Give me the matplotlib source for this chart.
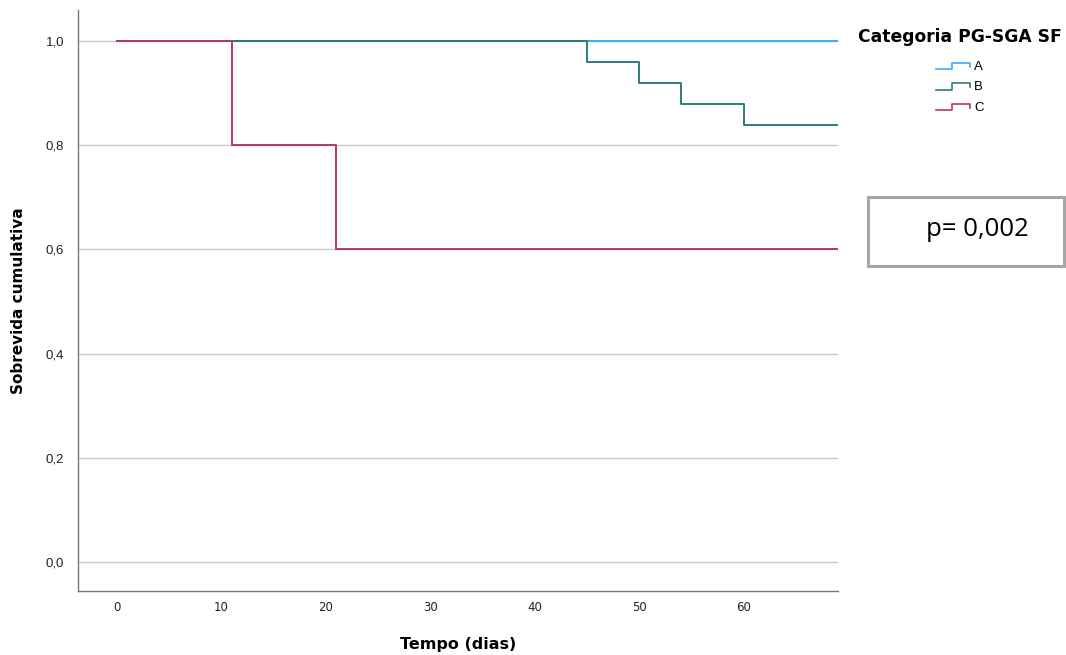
import matplotlib

matplotlib.use("Agg")
import matplotlib.pyplot as plt  # noqa: E402
from matplotlib.legend_handler import HandlerBase  # noqa: E402
from matplotlib.lines import Line2D  # noqa: E402
from matplotlib.patches import Rectangle  # noqa: E402

# Curvas de Kaplan-Meier por categoria (tempo em dias, sobrevida acumulada)
tempo_a = [0, 69]
sobrev_a = [1.0, 1.0]
tempo_b = [0, 45, 50, 54, 60, 69]
sobrev_b = [1.0, 0.96, 0.92, 0.88, 0.84, 0.84]
tempo_c = [0, 11, 21, 69]
sobrev_c = [1.0, 0.8, 0.6, 0.6]

categorias = ["A", "B", "C"]
cores = ["#3fa9f5", "#2f7c78", "#b8376e"]
xticks = [0, 10, 20, 30, 40, 50, 60]
yticks = [0.0, 0.2, 0.4, 0.6, 0.8, 1.0]
p_texto = "p= 0,002"


class StepHandler(HandlerBase):
    """Desenha o glifo da legenda em forma de degrau, como no SPSS."""

    def create_artists(self, legend, orig_handle, xdescent, ydescent,
                       width, height, fontsize, trans):
        x0, x1 = -xdescent, -xdescent + width
        y0, y1 = -ydescent + 0.1 * height, -ydescent + 0.8 * height
        xs = [x0, x0 + 0.45 * width, x0 + 0.45 * width, x1, x1]
        ys = [y0, y0, y1, y1, y0 + 0.25 * height]
        line = Line2D(xs, ys, color=orig_handle.get_color(), linewidth=1.2,
                      transform=trans)
        return [line]


fig = plt.figure(figsize=(10.66, 6.55), dpi=100)
ax = fig.add_axes([0.0732, 0.0977, 0.7129, 0.887])

series = [(tempo_a, sobrev_a), (tempo_b, sobrev_b), (tempo_c, sobrev_c)]
handles = []
for i, ((t, s), cor) in enumerate(zip(series, cores)):
    (h,) = ax.step(t, s, where="post", color=cor, linewidth=1.4, zorder=3 + i)
    handles.append(h)

ax.set_xlim(-3.7, 69)
ax.set_ylim(-0.056, 1.06)
ax.set_xticks(xticks)
ax.set_xticklabels([str(v) for v in xticks], fontsize=8.5, family="Liberation Sans Narrow")
ax.set_yticks(yticks)
ax.set_yticklabels([f"{v:.1f}".replace(".", ",") for v in yticks], fontsize=9.5,
                   family="Liberation Sans")
ax.tick_params(length=0, pad=10, colors="#222222")
ax.tick_params(axis="x", pad=7)
ax.grid(axis="y", color="#c8c8c8", linewidth=1.0)
ax.set_axisbelow(True)
for lado in ("top", "right"):
    ax.spines[lado].set_visible(False)
for lado in ("left", "bottom"):
    ax.spines[lado].set_color("#777777")
    ax.spines[lado].set_linewidth(1.0)

ax.set_xlabel("Tempo (dias)", fontsize=11.5, fontweight="bold", labelpad=17)
ax.set_ylabel("Sobrevida cumulativa", fontsize=11, fontweight="bold", labelpad=14)

leg = fig.legend(
    handles, categorias,
    handler_map={Line2D: StepHandler()},
    title="Categoria PG-SGA SF",
    loc="upper left",
    bbox_to_anchor=(0.800, 0.966),
    frameon=False,
    fontsize=9.5,
    handlelength=2.6,
    handletextpad=0.3,
    labelspacing=0.62,
    borderaxespad=0,
)
leg.get_title().set_fontweight("bold")
leg.get_title().set_fontsize(12.3)
leg._legend_box.align = "center"
leg._legend_box.sep = 11
for txt in leg.get_texts():
    txt.set_family("Liberation Sans")

# Caixa com o valor de p
fig.patches.append(Rectangle((868 / 1066, 1 - 266 / 655), 196 / 1066, 69 / 655,
                             transform=fig.transFigure, facecolor="white",
                             edgecolor="#a6a6a6", linewidth=2.2))
fig.text(977 / 1066, 1 - 229 / 655, p_texto, fontsize=18.5, ha="center", va="center",
         family="Open Sans")

fig.savefig("out.png", dpi=100)
plt.close(fig)
